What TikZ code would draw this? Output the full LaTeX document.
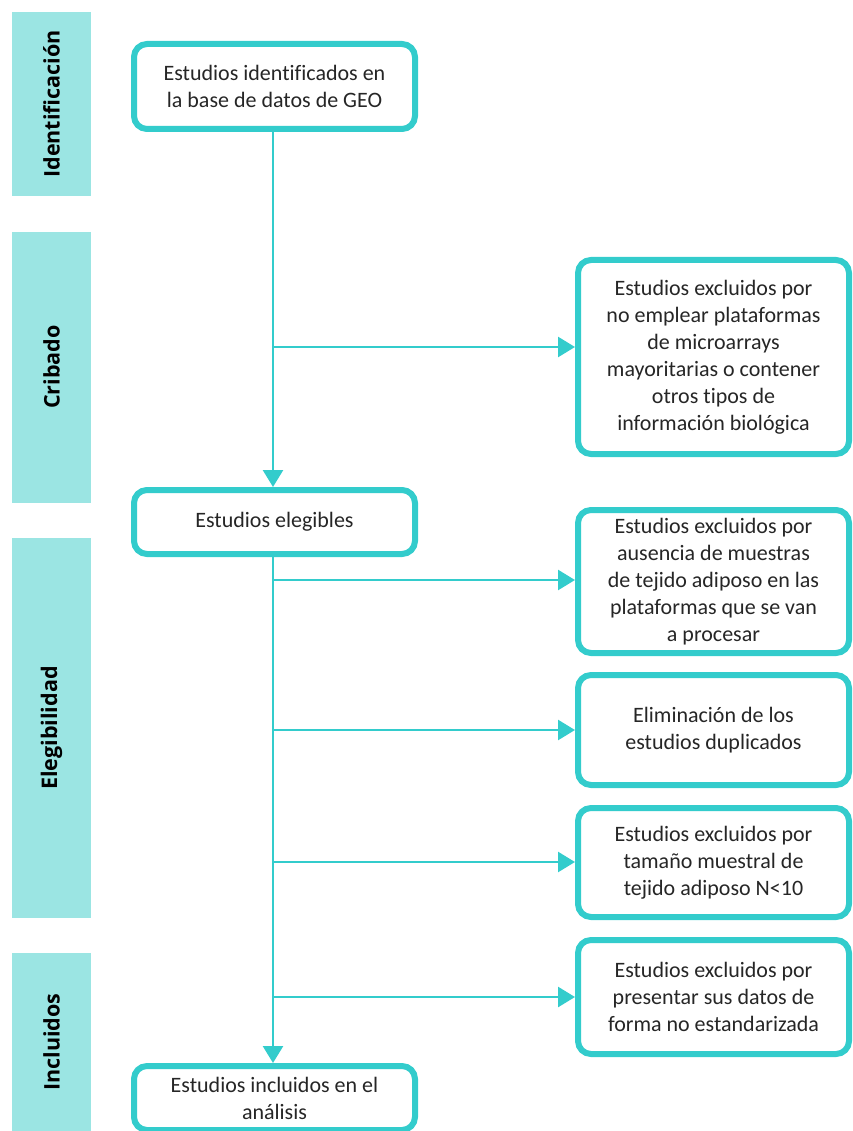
\documentclass[tikz,border=0pt]{standalone}
\usepackage{fontspec}
\setmainfont{Carlito}[Ligatures=NoCommon]
\newfontfamily\sidefont{Open Sans}
\usetikzlibrary{arrows.meta}
\definecolor{tealline}{RGB}{51,204,204}
\definecolor{barfill}{RGB}{155,229,227}
\definecolor{textgray}{RGB}{38,38,38}
\tikzset{
  stagebar/.style={fill=barfill},
  stagelabel/.style={rotate=90, font=\sidefont\bfseries\fontsize{21.5}{25}\selectfont, text=black},
  flowbox/.style={draw=tealline, line width=6pt, rounded corners=13pt, fill=white,
    align=center, text=textgray, inner sep=0pt, font=\fontsize{22}{27}\selectfont},
  flow/.style={draw=tealline, line width=2.6pt},
  flowarrow/.style={flow, -{Triangle[width=20pt,length=17pt]}}
}
\begin{document}
\begin{tikzpicture}[x=1pt,y=-1pt]
\useasboundingbox (0,0) rectangle (852,1131);

% stage bars on the left
\fill[stagebar] (12,12) rectangle (91,196);
\fill[stagebar] (12,232) rectangle (91,503);
\fill[stagebar] (12,538) rectangle (91,918);
\fill[stagebar] (12,953) rectangle (91,1131);
\node[stagelabel] (sid) at (51.5,104) {Identificación};
\node[stagelabel] (scr) at (51.5,367) {Cribado};
\node[stagelabel] (sel) at (51.5,728) {Elegibilidad};
\node[stagelabel] (sin) at (51.5,1042) {Incluidos};

% main column
\node[flowbox, minimum width=281pt, minimum height=85pt] (geo) at (274.5,86.5)
  {Estudios identificados en\\la base de datos de GEO};
\node[flowbox, minimum width=281pt, minimum height=64pt] (eleg) at (274.5,522)
  {Estudios elegibles};
\node[flowbox, minimum width=281pt, minimum height=64pt] (incl) at (274.5,1098)
  {Estudios incluidos en el\\análisis};

% exclusion boxes
\node[flowbox, minimum width=271pt, minimum height=194pt] (crib) at (713.5,357)
  {Estudios excluidos por\\no emplear plataformas\\de microarrays\\mayoritarias o contener\\otros tipos de\\información biológica};
\node[flowbox, minimum width=271pt, minimum height=143pt] (aus) at (713.5,581.5)
  {Estudios excluidos por\\ausencia de muestras\\de tejido adiposo en las\\plataformas que se van\\a procesar};
\node[flowbox, minimum width=271pt, minimum height=110pt] (elim) at (713.5,730)
  {Eliminación de los\\estudios duplicados};
\node[flowbox, minimum width=271pt, minimum height=109pt] (tam) at (713.5,862.5)
  {Estudios excluidos por\\tamaño muestral de\\tejido adiposo N<10};
\node[flowbox, minimum width=271pt, minimum height=114pt] (pres) at (713.5,997)
  {Estudios excluidos por\\presentar sus datos de\\forma no estandarizada};

% branch points on the main line
\coordinate (b1) at (273,347);
\coordinate (b2) at (273,580);
\coordinate (b3) at (273,730);
\coordinate (b4) at (273,862);
\coordinate (b5) at (273,997);

% connectors
\draw[flowarrow] (geo.south -| b1) -- (eleg.north -| b1);
\draw[flowarrow] (eleg.south -| b1) -- (incl.north -| b1);
\draw[flowarrow] (b1) -- (crib.west |- b1);
\draw[flowarrow] (b2) -- (aus.west |- b2);
\draw[flowarrow] (b3) -- (elim.west |- b3);
\draw[flowarrow] (b4) -- (tam.west |- b4);
\draw[flowarrow] (b5) -- (pres.west |- b5);
\end{tikzpicture}
\end{document}
